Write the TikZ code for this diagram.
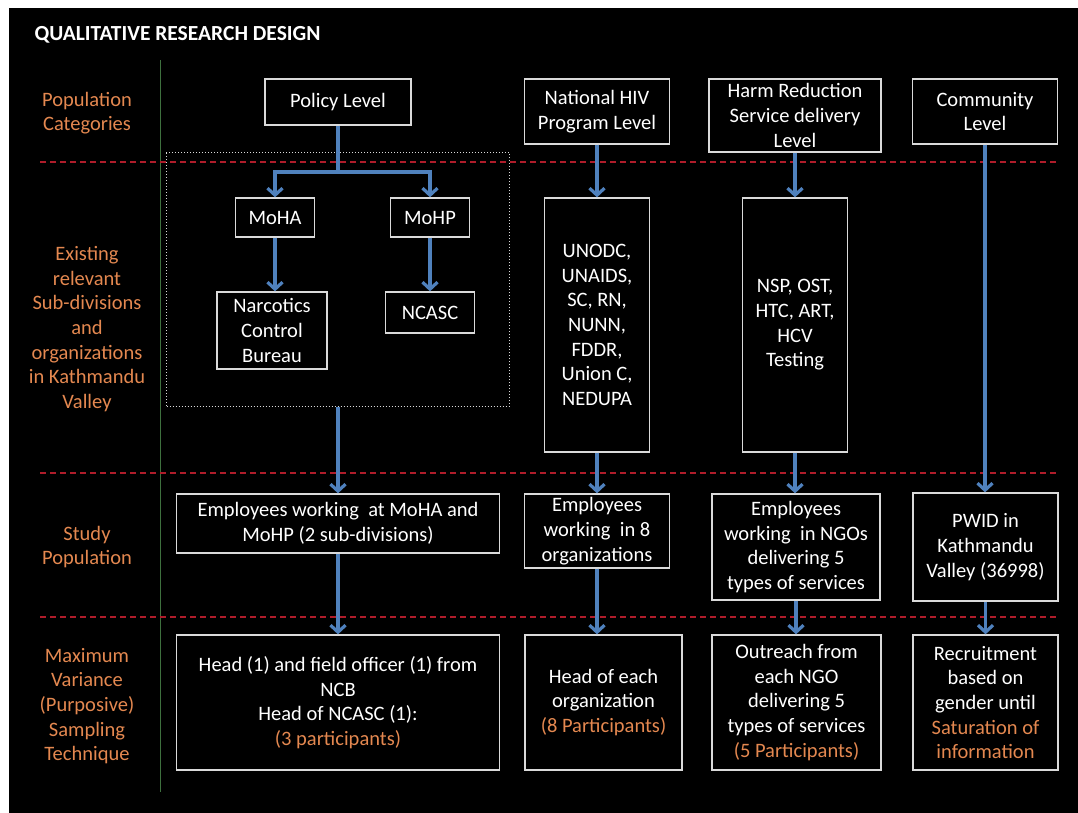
\documentclass[tikz,border=0pt]{standalone}
\usepackage{fontspec}
\setmainfont{Carlito}
\usetikzlibrary{arrows.meta}

\definecolor{catorange}{RGB}{228,136,80}
\definecolor{flowblue}{RGB}{79,129,189}
\definecolor{rowred}{RGB}{175,28,42}
\definecolor{colgreen}{RGB}{62,112,62}
\definecolor{boxgray}{RGB}{218,218,218}

\tikzset{
  box/.style={draw=boxgray,line width=1.3pt,inner sep=0pt,text=white,align=center},
  cat/.style={text=catorange,align=center},
  rowline/.style={draw=rowred,line width=1.1pt,dash pattern=on 6pt off 4pt},
}

\begin{document}
\begin{tikzpicture}[x=1pt,y=-1pt,every node/.append style={font=\fontsize{20.5}{24.7}\selectfont}]
  \useasboundingbox (0,0) rectangle (1078,813);
  \fill[white] (0,0) rectangle (1078,813);
  \fill[black] (9,8) rectangle (1078,813);

  \node[text=white,anchor=west,font=\fontsize{21.5}{26}\selectfont\bfseries] (title) at (31,34.5) {QUALITATIVE RESEARCH DESIGN};

  % row and column rules
  \draw[colgreen,line width=1pt] (160,60) -- (160,792);
  \foreach \y in {162,473,617}
    \draw[rowline] (40,\y) -- (1058,\y);

  % row labels
  \begin{scope}[every node/.append style={cat}]
  \node (popcat) at (87,113) {Population\\Categories};
  \node (subdiv) at (87,329) {Existing\\relevant\\Sub-divisions\\and\\organizations\\in Kathmandu\\Valley};
  \node (studypop) at (87,547) {Study\\Population};
  \node (sampling) at (87,706) {Maximum\\Variance\\(Purposive)\\Sampling\\Technique};
  \end{scope}

  \node[draw=boxgray,dotted,line width=1pt,minimum width=343pt,minimum height=253pt] (policygrp) at (338,279.5) {};

  \begin{scope}[every node/.append style={box}]
  \node[minimum width=146pt,minimum height=46pt] (policy) at (338,102) {Policy Level};
  \node[minimum width=145pt,minimum height=65pt] (hiv) at (597,111.5) {National HIV\\Program Level};
  \node[minimum width=172pt,minimum height=73pt] (harm) at (795,115.5) {Harm Reduction\\Service delivery\\Level};
  \node[minimum width=145pt,minimum height=65pt] (comm) at (985,111.5) {Community\\Level};

  \node[minimum width=79pt,minimum height=39pt] (moha) at (275,217.5) {MoHA};
  \node[minimum width=79pt,minimum height=39pt] (mohp) at (430,217.5) {MoHP};
  \node[minimum width=110pt,minimum height=77pt] (ncb) at (272,330.5) {Narcotics\\Control\\Bureau};
  \node[minimum width=89pt,minimum height=41pt] (ncasc) at (430,312.5) {NCASC};
  \node[minimum width=105pt,minimum height=254pt] (unodc) at (597,325) {UNODC,\\UNAIDS,\\SC, RN,\\NUNN,\\FDDR,\\Union C,\\NEDUPA};
  \node[minimum width=105pt,minimum height=254pt] (nsp) at (795,325) {NSP, OST,\\HTC, ART,\\HCV\\Testing};

  \node[minimum width=323pt,minimum height=59pt] (empmin) at (338,523.5) {Employees working~ at MoHA and\\MoHP (2 sub-divisions)};
  \node[minimum width=145pt,minimum height=74pt] (empprog) at (597,531) {Employees\\working~ in 8\\organizations};
  \node[minimum width=168pt,minimum height=106pt] (empngo) at (796,547) {Employees\\working~ in NGOs\\delivering 5\\types of services};
  \node[minimum width=145pt,minimum height=108pt] (pwid) at (985.5,547) {PWID in\\Kathmandu\\Valley (36998)};

  \node[minimum width=323pt,minimum height=135pt] (sampmin) at (338,702.5) {Head (1) and field officer (1) from\\NCB\\Head of NCASC (1):\\\textcolor{catorange}{(3 participants)}};
  \node[minimum width=157pt,minimum height=135pt] (sampprog) at (603.5,702.5) {Head of each\\organization\\\textcolor{catorange}{(8 Participants)}};
  \node[minimum width=169pt,minimum height=135pt] (sampngo) at (796.5,702.5) {Outreach from\\each NGO\\delivering 5\\types of services\\\textcolor{catorange}{(5 Participants)}};
  \node[minimum width=145pt,minimum height=135pt] (sampcomm) at (985.5,702.5) {Recruitment\\based on\\gender until\\\textcolor{catorange}{Saturation of}\\\textcolor{catorange}{information}};
  \end{scope}

  \coordinate (fork) at (338,172);
  \draw[flowblue,line width=3.2pt] (policy) -- (fork);
  \begin{scope}[every edge/.style={draw=flowblue,line width=3.2pt,-{Straight Barb[length=7pt,width=15pt]}}]
  \path (fork) edge[to path={-| (\tikztotarget)}] (moha);
  \path (fork) edge[to path={-| (\tikztotarget)}] (mohp);
  \path (moha) edge (moha |- ncb.north);
  \path (mohp) edge (ncasc);
  \path (policygrp) edge (empmin);
  \path (empmin) edge (sampmin);
  \path (hiv) edge (unodc);
  \path (unodc) edge (empprog);
  \path (empprog) edge (empprog |- sampprog.north);
  \path (harm) edge (nsp);
  \path (nsp) edge (nsp |- empngo.north);
  \path (empngo) edge (empngo |- sampngo.north);
  \path (comm) edge (comm |- pwid.north);
  \path (pwid) edge (pwid |- sampcomm.north);
  \end{scope}
\end{tikzpicture}
\end{document}
